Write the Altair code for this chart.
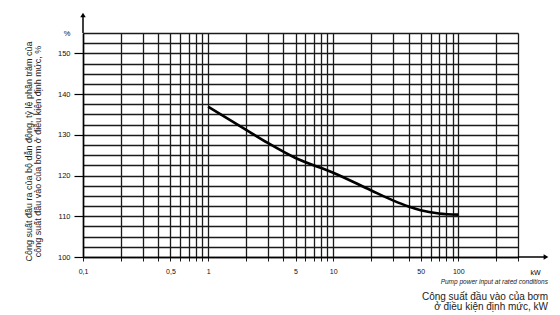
import altair as alt
import pandas as pd

# curve
power_kw = [1, 2, 3, 5, 10, 20, 30, 40, 50, 70, 100]
percent = [136.9, 131.3, 128.0, 124.3, 120.7, 116.4, 113.9, 112.4, 111.5, 110.7, 110.4]

# grid / tick values
x_grid = [0.1, 0.2, 0.3, 0.4, 0.5, 0.6, 0.7, 0.8, 0.9,
          1, 2, 3, 4, 5, 6, 7, 8, 9,
          10, 20, 30, 40, 50, 60, 70, 80, 90,
          100, 200, 300]
x_label_vals = [0.1, 0.5, 1, 5, 10, 50, 100]
x_label_text = ["0,1", "0,5", "1", "5", "10", "50", "100"]
y_grid = [100 + 2.5 * i for i in range(23)]
y_label_vals = [100, 110, 120, 130, 140, 150]
y_unit = "%"

y_title = ["Công suất đầu ra của bộ dẫn động, tỷ lệ phần trăm của",
           "công suất đầu vào của bơm ở điều kiện định mức, %"]
x_unit = "kW"
bottom_en = "Pump power input at rated conditions"
bottom_vi = ["Công suất đầu vào của bơm", "ở điều kiện định mức, kW"]

df = pd.DataFrame({"p": power_kw, "pct": percent})

W, H = 435, 224
FONT = "Liberation Sans"

x_expr = " : ".join(
    f"datum.value == {v} ? '{t}'" for v, t in zip(x_label_vals, x_label_text)
) + " : ''"
y_expr = ("datum.value % 10 == 0 ? datum.value : datum.value == 155 ? '" + y_unit + "' : ''")

line = alt.Chart(df).mark_line(color="black", strokeWidth=2.6, interpolate="monotone").encode(
    x=alt.X("p:Q",
            scale=alt.Scale(type="log", domain=[0.1, 300], nice=False),
            axis=alt.Axis(values=x_grid, labelExpr=x_expr, grid=True,
                          gridColor="#1a1a1a", gridWidth=1.3,
                          tickSize=4, tickColor="#1a1a1a", labelPadding=6,
                          labelFont=FONT, labelFontSize=7, labelColor="#111",
                          labelFlush=False, labelOverlap=False,
                          domainColor="black", domainWidth=1.5,
                          title=x_unit, titleFont=FONT, titleFontSize=7,
                          titleFontWeight="normal", titleX=452, titleY=15,
                          titleAlign="center", titleBaseline="middle")),
    y=alt.Y("pct:Q",
            scale=alt.Scale(domain=[100, 155], nice=False, zero=False),
            axis=alt.Axis(values=y_grid, labelExpr=y_expr, grid=True,
                          gridColor="#1a1a1a", gridWidth=1.3,
                          tickSize=9, tickColor="black", tickWidth=1.2,
                          tickOpacity={"condition": {"test": "datum.value % 10 == 0", "value": 1}, "value": 0},
                          labelPadding=4, labelFont=FONT, labelFontSize=7.5,
                          labelColor="#111", labelFlush=False, labelOverlap=False,
                          domainColor="black", domainWidth=1.5,
                          title=y_title, titleFont=FONT, titleFontSize=9,
                          titleFontWeight="normal", titleAngle=270,
                          titleX=-52, titleY=118, titleAlign="center",
                          titleBaseline="alphabetic", titleLineHeight=9.5,
                          titleColor="#222")),
)

one = alt.Data(values=[{"a": 1}])
y_arrow = alt.Chart(one).mark_rule(color="black", strokeWidth=1.5).encode(
    x=alt.value(0), y=alt.value(0), y2=alt.value(-18))
y_head = alt.Chart(one).mark_point(shape="triangle-up", filled=True, color="black",
                                   size=30, opacity=1).encode(
    x=alt.value(0), y=alt.value(-18))
x_arrow = alt.Chart(one).mark_rule(color="black", strokeWidth=1.5).encode(
    x=alt.value(W), x2=alt.value(W + 28), y=alt.value(H))
x_head = alt.Chart(one).mark_point(shape="triangle-right", filled=True, color="black",
                                   size=30, opacity=1).encode(
    x=alt.value(W + 28), y=alt.value(H))

chart = alt.layer(line, y_arrow, y_head, x_arrow, x_head).properties(
    width=W, height=H,
    autosize=alt.AutoSizeParams(type="none"),
    padding={"left": 83, "top": 33, "right": 42, "bottom": 58},
    title=alt.TitleParams(
        text=bottom_en, subtitle=bottom_vi, orient="bottom", anchor="end",
        font=FONT, fontSize=6.5, fontStyle="italic", fontWeight="normal",
        color="#222", subtitleFont=FONT, subtitleFontSize=10,
        subtitleColor="#222", subtitleLineHeight=10, subtitlePadding=6,
        offset=4, dx=30, frame="group"),
).configure_view(stroke=None).configure(background="white")

chart.save("out.html", embed_options={"renderer": "svg", "actions": False})
